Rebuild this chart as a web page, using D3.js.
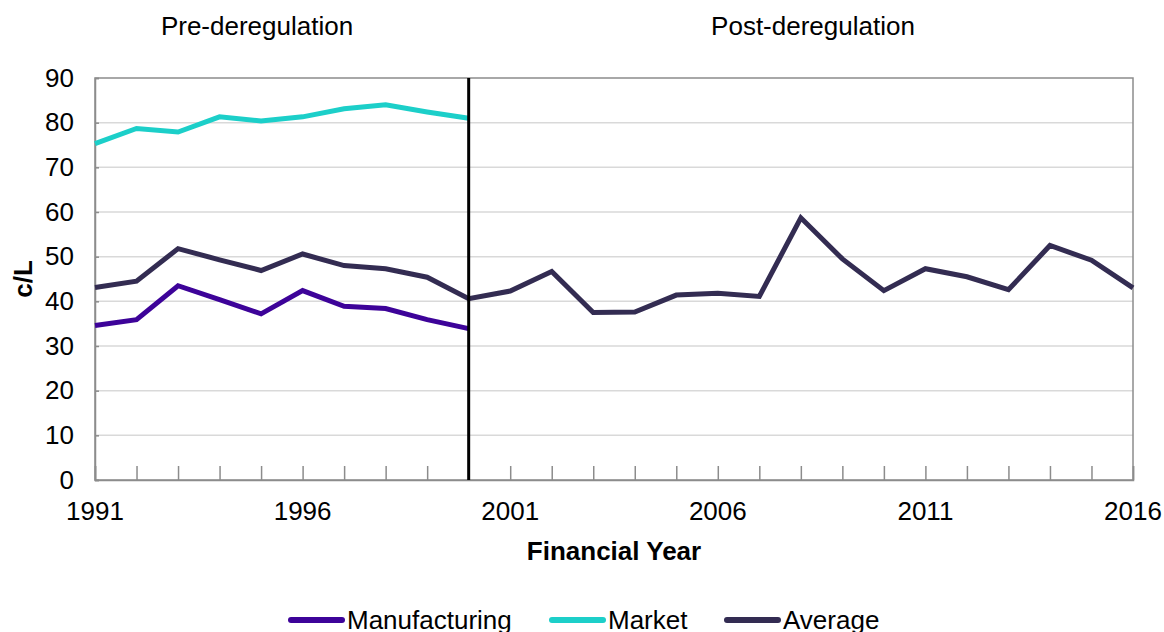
<!DOCTYPE html>
<html>
<head>
<meta charset="utf-8">
<script src="https://cdn.jsdelivr.net/npm/d3@7"></script>
<style>
  html, body { margin: 0; padding: 0; background: #fff; }
  svg { display: block; font-family: "Liberation Sans", Arial, sans-serif; }
</style>
</head>
<body>
<svg id="chart" width="1164" height="632"></svg>
<script>
// Financial years, one point per year
const years = d3.range(1991, 2017);
const preYears = d3.range(1991, 2001);

// Prices in cents per litre
const manufacturing = [34.6, 35.9, 43.5, 40.4, 37.2, 42.4, 38.9, 38.4, 35.9, 33.9];
const market = [75.3, 78.7, 77.9, 81.3, 80.4, 81.3, 83.1, 84.0, 82.4, 81.0];
const average = [43.1, 44.5, 51.8, 49.3, 46.9, 50.6, 48.0, 47.3, 45.4, 40.6,
                 42.3, 46.7, 37.5, 37.6, 41.4, 41.8, 41.1, 58.7, 49.5, 42.4,
                 47.3, 45.5, 42.6, 52.5, 49.2, 43.0];

const yTicks = d3.range(0, 91, 10);
const xTickLabels = [1991, 1996, 2001, 2006, 2011, 2016];
const deregulationYear = 2000;
const periodLabels = ["Pre-deregulation", "Post-deregulation"];

const seriesList = [
  { name: "Manufacturing", years: preYears, values: manufacturing, color: "#3d0399" },
  { name: "Market", years: preYears, values: market, color: "#1ccfc9" },
  { name: "Average", years: years, values: average, color: "#332c52" }
];

const svg = d3.select("#chart");
const plotLeft = 95, plotRight = 1133, plotTop = 78, plotBottom = 480;
const fontSize = 26;

const x = d3.scaleLinear().domain([1991, 2016]).range([plotLeft, plotRight]);
const y = d3.scaleLinear().domain([0, 90]).range([plotBottom, plotTop]);

// Horizontal gridlines
svg.append("g")
  .selectAll("line")
  .data(yTicks.filter(d => d > 0 && d < 90))
  .join("line")
  .attr("x1", plotLeft).attr("x2", plotRight)
  .attr("y1", d => y(d)).attr("y2", d => y(d))
  .attr("stroke", "#d9d9d9").attr("stroke-width", 1.5);

// Plot frame
svg.append("rect")
  .attr("x", plotLeft).attr("y", plotTop)
  .attr("width", plotRight - plotLeft).attr("height", plotBottom - plotTop)
  .attr("fill", "none").attr("stroke", "#8c8c8c").attr("stroke-width", 1.5);

// Bottom axis: inward ticks every year
const xAxis = svg.append("g")
  .attr("transform", `translate(0,${plotBottom})`)
  .call(d3.axisBottom(x).tickValues(years).tickSize(-14).tickFormat(""));
xAxis.select(".domain").attr("stroke", "#8c8c8c").attr("stroke-width", 1.5);
xAxis.selectAll(".tick line").attr("stroke", "#8c8c8c").attr("stroke-width", 1.5);

svg.append("g")
  .selectAll("text")
  .data(xTickLabels)
  .join("text")
  .attr("x", d => x(d)).attr("y", 519.5)
  .attr("text-anchor", "middle")
  .attr("font-size", fontSize).attr("fill", "#000")
  .text(d => d);

// Left axis
const yAxis = svg.append("g")
  .attr("transform", `translate(${plotLeft},0)`)
  .call(d3.axisLeft(y).tickValues(yTicks).tickSize(-4).tickPadding(21));
yAxis.select(".domain").attr("stroke", "#8c8c8c").attr("stroke-width", 1.5);
yAxis.selectAll(".tick line").attr("stroke", "#8c8c8c").attr("stroke-width", 1.5);
yAxis.selectAll(".tick text")
  .attr("font-size", fontSize).attr("fill", "#000")
  .attr("font-family", "Liberation Sans, Arial, sans-serif");

// Axis titles
svg.append("text")
  .attr("transform", `translate(32,${(plotTop + plotBottom) / 2}) rotate(-90)`)
  .attr("text-anchor", "middle")
  .attr("font-size", fontSize).attr("font-weight", "bold")
  .text("c/L");

svg.append("text")
  .attr("x", (plotLeft + plotRight) / 2).attr("y", 560)
  .attr("text-anchor", "middle")
  .attr("font-size", fontSize).attr("font-weight", "bold")
  .text("Financial Year");

// Series lines
const line = d3.line()
  .x(d => x(d[0]))
  .y(d => y(d[1]));

seriesList.forEach(s => {
  svg.append("path")
    .datum(d3.zip(s.years, s.values))
    .attr("d", line)
    .attr("fill", "none")
    .attr("stroke", s.color)
    .attr("stroke-width", 5)
    .attr("stroke-linejoin", "miter");
});

// Deregulation divider
svg.append("line")
  .attr("x1", x(deregulationYear)).attr("x2", x(deregulationYear))
  .attr("y1", plotTop).attr("y2", plotBottom)
  .attr("stroke", "#000").attr("stroke-width", 3);

// Period labels
svg.append("text")
  .attr("x", 257).attr("y", 35)
  .attr("text-anchor", "middle").attr("font-size", fontSize)
  .text(periodLabels[0]);
svg.append("text")
  .attr("x", 813).attr("y", 35)
  .attr("text-anchor", "middle").attr("font-size", fontSize)
  .text(periodLabels[1]);

// Legend
const legendX = [291, 552, 727];
const legend = svg.append("g");
seriesList.forEach((s, i) => {
  const g = legend.append("g").attr("transform", `translate(${legendX[i]},620)`);
  g.append("line")
    .attr("x1", 0).attr("x2", 51)
    .attr("stroke", s.color).attr("stroke-width", 6)
    .attr("stroke-linecap", "round");
  g.append("text")
    .attr("x", 56).attr("y", 9)
    .attr("font-size", fontSize).attr("fill", "#000")
    .text(s.name);
});
</script>
</body>
</html>
